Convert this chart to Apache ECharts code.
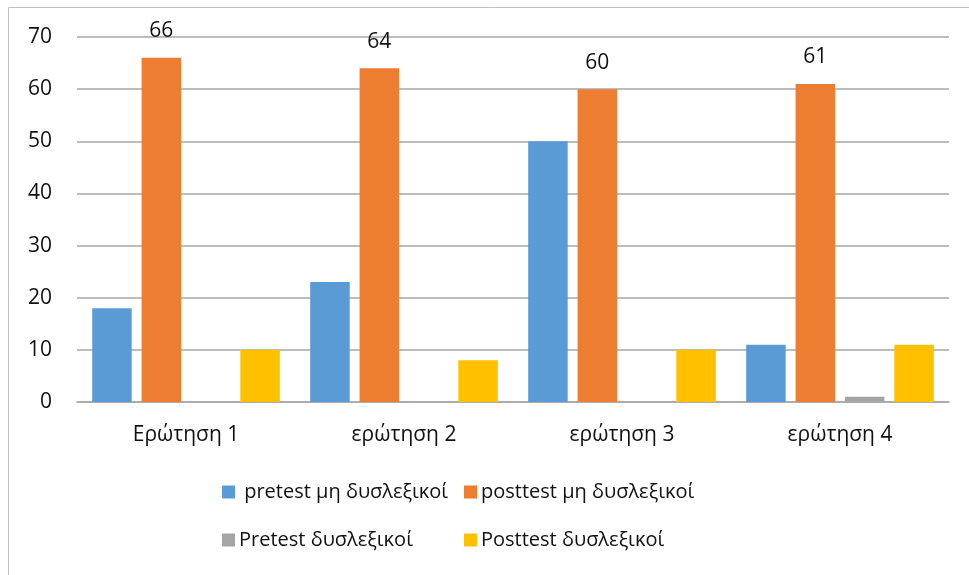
<!DOCTYPE html>
<html>
<head>
<meta charset="utf-8">
<script src="https://cdn.jsdelivr.net/npm/echarts@6/dist/echarts.min.js"></script>
<style>
  html, body { margin: 0; padding: 0; background: #fff; }
  #chart { width: 969px; height: 575px; }
</style>
</head>
<body>
<div id="chart"></div>
<script>
const categories = ['Ερώτηση 1', 'ερώτηση 2', 'ερώτηση 3', 'ερώτηση 4'];
const seriesNames = [' pretest μη δυσλεξικοί', 'posttest μη δυσλεξικοί', 'Pretest δυσλεξικοί', 'Posttest δυσλεξικοί'];
const pretestNonDys = [18, 23, 50, 11];
const posttestNonDys = [66, 64, 60, 61];
const pretestDys = [0, 0, 0, 1];
const posttestDys = [10, 8, 10, 11];
const yTicks = [0, 10, 20, 30, 40, 50, 60, 70];

const FONT = 'Open Sans';
const FS = 21;
const colors = ['#5B9BD5', '#ED7D31', '#A5A5A5', '#FFC000'];
const values = [pretestNonDys, posttestNonDys, pretestDys, posttestDys];

const chart = echarts.init(document.getElementById('chart'));

function legendAt(name, left, top) {
  return {
    data: [name],
    left: left, top: top,
    icon: 'rect', itemWidth: 13, itemHeight: 13,
    itemGap: 0,
    padding: 0,
    textStyle: { fontFamily: FONT, fontSize: 20, color: '#111', padding: [0, 0, 0, -1] },
    selectedMode: false
  };
}

chart.setOption({
  animation: false,
  textStyle: { fontFamily: FONT },
  graphic: [{
    type: 'rect',
    shape: { x: 8.5, y: 7.5, width: 1000, height: 700 },
    style: { fill: 'none', stroke: '#bfbfbf', lineWidth: 1 },
    silent: true, z: -1
  }],
  grid: { left: 77, right: 20, top: 37, bottom: 173, containLabel: false },
  legend: [
    legendAt(seriesNames[0], 222, 482),
    legendAt(seriesNames[1], 464, 482),
    legendAt(seriesNames[2], 222, 530),
    legendAt(seriesNames[3], 464, 530)
  ],
  xAxis: {
    type: 'category',
    data: categories,
    axisLine: { lineStyle: { color: '#a6a6a6', width: 1.5 } },
    axisTick: { show: false },
    axisLabel: { fontFamily: FONT, fontSize: FS, color: '#111', margin: 23 }
  },
  yAxis: {
    type: 'value',
    min: yTicks[0], max: yTicks[yTicks.length - 1], interval: 10,
    axisLine: { show: false },
    axisTick: { show: false },
    splitLine: { lineStyle: { color: '#a6a6a6', width: 1.5 } },
    axisLabel: { fontFamily: FONT, fontSize: FS, color: '#111', margin: 25 }
  },
  series: seriesNames.map((n, i) => ({
    name: n,
    type: 'bar',
    data: values[i],
    barWidth: 39.5,
    barGap: '25%',
    itemStyle: { color: colors[i] },
    label: i === 1 ? {
      show: true, position: 'top', distance: 16,
      fontFamily: FONT, fontSize: FS, color: '#111'
    } : { show: false }
  }))
});
</script>
</body>
</html>
